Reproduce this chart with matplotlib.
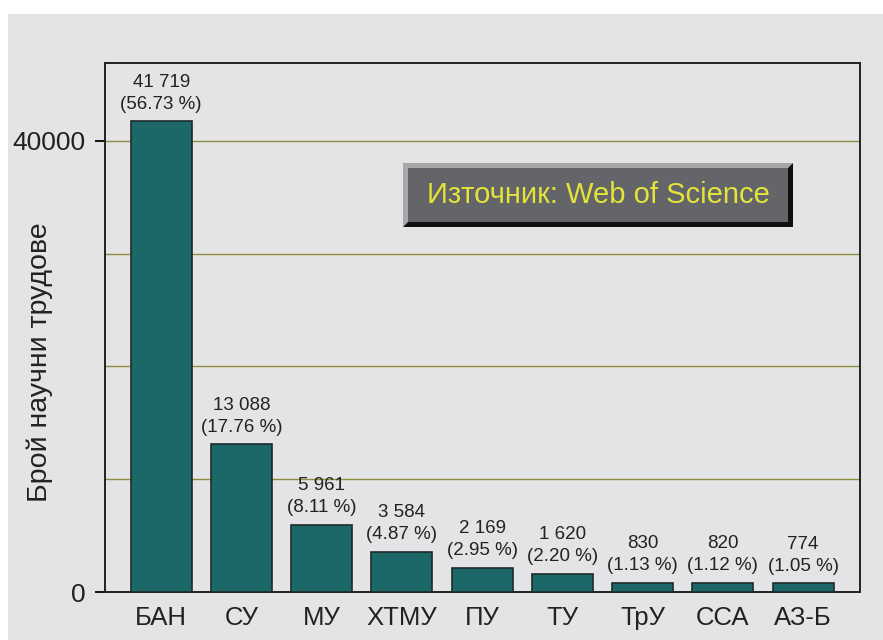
"""
Брой научни трудове по институции (Web of Science) - bar chart
"""

import matplotlib
matplotlib.use('Agg')
import matplotlib.pyplot as plt
from matplotlib.patches import Rectangle, Polygon
import numpy as np

# Data
categories = ['БАН', 'СУ', 'МУ', 'ХТМУ', 'ПУ', 'ТУ', 'ТрУ', 'ССА', 'АЗ-Б']
counts = [41719, 13088, 5961, 3584, 2169, 1620, 830, 820, 774]
count_labels = ['41 719', '13 088', '5 961', '3 584', '2 169', '1 620', '830', '820', '774']
percent_labels = ['56.73', '17.76', '8.11', '4.87', '2.95', '2.20', '1.13', '1.12', '1.05']
ytick_values = [0, 40000]
grid_values = [10000, 20000, 30000, 40000]

plt.rcParams['font.family'] = ['Liberation Sans', 'DejaVu Sans']

W, H = 883, 640
fig = plt.figure(figsize=(W / 100, H / 100), dpi=100, facecolor='white')

# grey panel behind everything (white strip at top and left edge)
bg = '#e4e4e6'
fig.add_artist(Rectangle((8 / W, 0), 1 - 8 / W, 1 - 14 / H, transform=fig.transFigure,
                         facecolor=bg, edgecolor='none', zorder=0))

ax = fig.add_axes([105 / W, 1 - 592 / H, 755 / W, (592 - 63) / H])
ax.set_facecolor(bg)

x = np.arange(len(categories))
for g in grid_values:
    ax.axhline(g, color='#8e8e3e', linewidth=1.0, zorder=1)

ax.bar(x, counts, width=0.76, color='#1c6868', edgecolor='#1e2a2a', linewidth=1.2, zorder=3)

for xi, c, cl, pl in zip(x, counts, count_labels, percent_labels):
    ax.annotate(f'{cl}\n({pl} %)', (xi, c), xytext=(0, 6), textcoords='offset points',
                ha='center', va='bottom', fontsize=13.5, linespacing=1.4, color='#222222')

ax.set_xlim(-0.7, 8.71)
ax.set_ylim(0, 46900)
ax.set_yticks(ytick_values)
ax.set_yticklabels([str(v) for v in ytick_values], fontsize=19, color='#222222')
ax.set_xticks(x)
ax.set_xticklabels(categories, fontsize=18.5, color='#222222')
ax.tick_params(axis='y', length=7, width=1.3, direction='out', pad=7)
ax.tick_params(axis='x', length=0, pad=10)

for spine in ax.spines.values():
    spine.set_color('#222222')
    spine.set_linewidth(1.4)

fig.text(40 / W, 1 - 362 / H, 'Брой научни трудове', rotation=90, ha='center', va='center',
         fontsize=20.5, color='#222222')

# beveled source box
x0, x1, yt, yb, b = 403, 793, 163, 227, 5
def fpts(pts):
    return [(px / W, 1 - py / H) for px, py in pts]

light = [(x0, yt), (x1, yt), (x1 - b, yt + b), (x0 + b, yt + b), (x0 + b, yb - b), (x0, yb)]
dark = [(x1, yt), (x1, yb), (x0, yb), (x0 + b, yb - b), (x1 - b, yb - b), (x1 - b, yt + b)]
inner = [(x0 + b, yt + b), (x1 - b, yt + b), (x1 - b, yb - b), (x0 + b, yb - b)]
fig.add_artist(Polygon(fpts(light), closed=True, transform=fig.transFigure,
                       facecolor='#a7a8aa', edgecolor='none', zorder=5))
fig.add_artist(Polygon(fpts(dark), closed=True, transform=fig.transFigure,
                       facecolor='#111111', edgecolor='none', zorder=5))
fig.add_artist(Polygon(fpts(inner), closed=True, transform=fig.transFigure,
                       facecolor='#646569', edgecolor='none', zorder=5))
fig.text((x0 + x1) / 2 / W, 1 - (yt + yb) / 2 / H, 'Източник: Web of Science',
         ha='center', va='center', fontsize=21, color='#e3e33a', zorder=6)

fig.savefig('out.png', dpi=100, facecolor='white')
